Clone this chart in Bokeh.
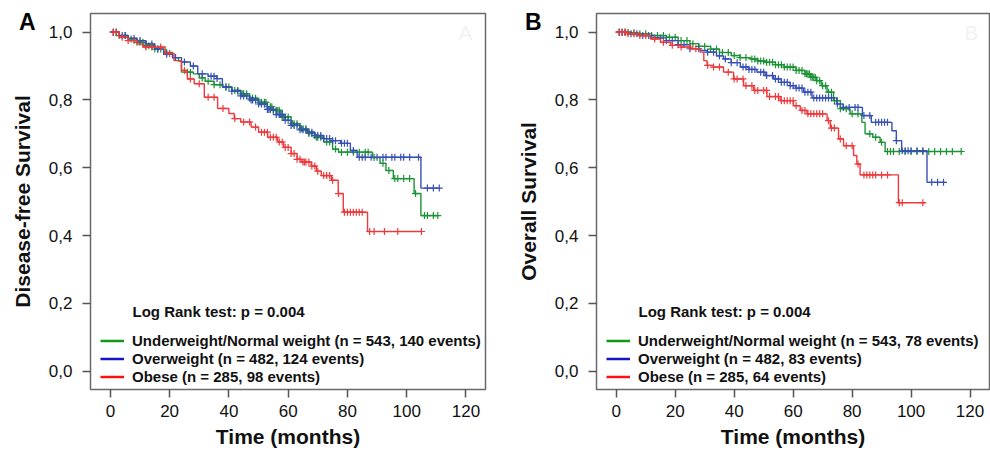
import numpy as np
from bokeh.plotting import figure
from bokeh.models import Range1d, FixedTicker, Label, Legend, LegendItem, LinearAxis
from bokeh.layouts import row
from bokeh.embed import file_html
from bokeh.resources import INLINE

# ---------------- data ----------------
x_ticks = [0, 20, 40, 60, 80, 100, 120]
y_ticks = [0.0, 0.2, 0.4, 0.6, 0.8, 1.0]
y_tick_labels = ["0,0", "0,2", "0,4", "0,6", "0,8", "1,0"]
panel_letters = ["A", "B"]
y_titles = ["Disease-free Survival", "Overall Survival"]
x_title = "Time (months)"

groups = ["Underweight/Normal weight", "Overweight", "Obese"]
group_n = [543, 482, 285]
events_a = [140, 124, 98]
events_b = [78, 83, 64]
p_value = "0.004"

# Panel A: Disease-free survival (step times / survival)
a_green_t = [0, 3, 6, 9, 12, 15, 18, 21, 23, 24, 28, 30, 32, 35, 38, 41, 44, 47, 50, 53,
             55, 58, 61, 64, 66.5, 69, 72, 75, 77, 88.5, 91, 93, 95.5, 102.5, 104.8, 110.5]
a_green_s = [1.0, 0.99, 0.98, 0.97, 0.96, 0.95, 0.94, 0.925, 0.915, 0.882, 0.877, 0.865, 0.855, 0.845, 0.838, 0.828, 0.818, 0.805, 0.793, 0.78,
             0.769, 0.75, 0.73, 0.715, 0.701, 0.69, 0.676, 0.655, 0.646, 0.63, 0.613, 0.592, 0.568, 0.524, 0.459, 0.459]
a_green_c = [1, 2, 3, 5, 7, 9, 10, 11, 12, 13, 14, 15, 16, 17, 19, 26, 27, 31, 33, 35, 37, 39, 40, 42, 43, 44.5, 45, 46,
             47, 48, 49, 50.5, 51, 52, 52.5, 53, 54, 54.5, 55, 56, 56.5, 57, 58, 58.5, 59, 60, 61.5, 62, 63, 64.5, 65,
             66, 67, 68, 69.5, 70, 71, 73, 74, 76, 78, 80, 82, 84, 86, 87, 89, 92, 94, 96, 97, 99, 101, 103, 106,
             107, 109, 110.5]

a_blue_t = [0, 3, 6, 9, 12, 15, 18, 21, 24, 27, 29.5, 33, 36, 37.8, 41, 44, 47, 50, 53, 56,
            59, 61, 64, 66.5, 69, 72, 75, 77.7, 81, 83.3, 104.8, 111]
a_blue_s = [1.0, 0.99, 0.982, 0.975, 0.965, 0.95, 0.935, 0.925, 0.912, 0.9, 0.877, 0.87, 0.863, 0.838, 0.826, 0.812, 0.8, 0.788, 0.772, 0.757,
            0.74, 0.725, 0.712, 0.705, 0.695, 0.686, 0.68, 0.672, 0.651, 0.631, 0.54, 0.54]
a_blue_c = [1, 2, 4, 5, 8, 10, 12, 14, 16, 19, 22, 25, 28, 31, 34, 35, 36, 39, 41, 43, 44, 45, 46, 47.5, 48, 49, 50,
            51, 52, 53, 53.5, 54, 55, 56, 57, 57.5, 58, 59, 60, 61, 62, 63, 64, 65, 66, 67, 68, 69, 70, 71, 72,
            73, 74, 75, 76, 78, 79, 80, 82, 84, 85, 86, 88, 90, 92, 93, 95, 96, 98, 99, 101, 104, 107, 109, 111]

a_red_t = [0, 3, 6, 9, 11, 18.5, 21.5, 24, 26, 28.3, 31.7, 36.2, 40, 41.8, 44, 47.5, 50, 53.1, 56.5, 58.5,
           61, 63, 64.4, 67.8, 69.5, 71.2, 74.6, 76.9, 78.6, 86.8, 105]
a_red_s = [1.0, 0.985, 0.975, 0.965, 0.956, 0.937, 0.916, 0.887, 0.862, 0.848, 0.808, 0.775, 0.76, 0.745, 0.735, 0.72, 0.705, 0.69, 0.676, 0.66,
           0.642, 0.625, 0.617, 0.605, 0.59, 0.577, 0.563, 0.524, 0.469, 0.412, 0.412]
a_red_c = [1, 2, 4, 6, 8, 12, 14, 17, 20, 25, 27, 30, 33, 35, 38, 42, 45, 47, 49, 51, 52, 53, 54, 55, 56, 57, 58,
           59, 60, 61, 62, 63, 64, 65, 65.5, 66, 67, 68, 69, 70, 72, 73, 74, 75, 77, 79, 80, 81, 82, 83, 84,
           85, 87.5, 89, 92.5, 97, 105]

# Panel B: Overall survival
b_green_t = [0, 5, 8, 12, 17, 21, 25, 28, 32, 35, 39, 42, 45.5, 48, 51, 54, 57, 61, 64, 66,
             68, 69.5, 71.5, 73.7, 76, 79.3, 83.3, 84.4, 87, 89.5, 91.2, 117.2]
b_green_s = [1.0, 0.998, 0.995, 0.99, 0.985, 0.975, 0.966, 0.958, 0.95, 0.94, 0.931, 0.925, 0.921, 0.915, 0.911, 0.904, 0.897, 0.887, 0.877, 0.867,
             0.857, 0.842, 0.823, 0.798, 0.774, 0.759, 0.734, 0.70, 0.69, 0.675, 0.648, 0.648]
b_green_c = [1, 2, 3, 4, 6, 8, 10, 12, 14, 16, 18, 20, 22, 24, 26, 28, 30, 32, 34, 36, 38, 40, 42, 44, 46, 47, 48,
             49, 50, 51, 52, 53, 54, 55, 56, 57, 58, 59, 60, 61, 62, 63, 64, 64.5, 65, 65.5, 66, 66.5, 67, 67.5, 68,
             69, 70, 71, 72, 73, 74, 75, 76, 78, 80, 82, 86, 88, 90, 92, 93, 94, 96, 98, 100, 102, 104, 106, 108,
             110, 112, 114, 117]

b_blue_t = [0, 4, 8, 13, 17, 21, 25, 28.5, 30.8, 34, 36.4, 39, 42.1, 45, 47.7, 50.5, 53.4, 56, 59, 61,
            63.5, 66.4, 74.8, 77, 83.5, 86.5, 93.5, 95, 96.8, 105.4, 111.5]
b_blue_s = [1.0, 0.995, 0.99, 0.983, 0.975, 0.963, 0.951, 0.946, 0.941, 0.93, 0.921, 0.91, 0.897, 0.89, 0.882, 0.872, 0.862, 0.852, 0.842, 0.835,
            0.823, 0.806, 0.788, 0.778, 0.754, 0.734, 0.709, 0.68, 0.65, 0.557, 0.557]
b_blue_c = [1, 2, 3, 5, 7, 9, 11, 13, 15, 17, 19, 21, 23, 25, 28, 31, 33, 35, 37, 39, 41, 43, 44, 45, 46, 47, 49,
            50, 51, 53, 54, 55, 56, 57, 58, 59, 60, 61, 62, 63, 64, 65, 66, 67, 68, 69, 70, 71, 72, 73, 75, 77,
            79, 81, 82, 84, 86, 88, 89, 90, 91, 92, 95, 97, 98, 99, 100, 102, 104, 107, 109, 111]

b_red_t = [0, 4, 8, 11.6, 15, 18.4, 22, 25.2, 28.5, 29.7, 30.8, 32.9, 36.4, 39.8, 43.2, 46.6, 51.1, 55.6, 60.1, 62.4,
           64.7, 71.5, 72.6, 75.4, 77.1, 80.5, 81.6, 82.7, 95.7, 104.7]
b_red_s = [1.0, 0.995, 0.99, 0.98, 0.97, 0.961, 0.956, 0.951, 0.941, 0.916, 0.902, 0.897, 0.882, 0.862, 0.842, 0.828, 0.81, 0.798, 0.783, 0.769,
           0.759, 0.739, 0.717, 0.685, 0.665, 0.636, 0.611, 0.579, 0.497, 0.497]
b_red_c = [1, 2, 3, 4, 6, 8, 10, 13, 16, 19, 22, 25, 27, 31, 33, 35, 38, 40, 41, 43, 44, 46, 47, 48, 50, 51, 52,
           54, 55, 56, 57, 58, 59, 60, 61, 63, 64, 65, 66, 67, 68, 69, 70, 72, 73, 74, 76, 78, 80, 82, 84, 85,
           86, 87, 88, 90, 92, 96, 97, 104]

curve_colors = ["#1b9234", "#3650b4", "#ec3a3d"]
legend_colors = ["#119a11", "#1414c8", "#ff1010"]
FONT = "Liberation Sans"


def surv_at(times, t_step, s_step):
    t_step = np.asarray(t_step, dtype=float)
    s_step = np.asarray(s_step, dtype=float)
    idx = np.searchsorted(t_step, np.asarray(times, dtype=float), side="right") - 1
    idx = np.clip(idx, 0, len(s_step) - 1)
    return s_step[idx]


def make_panel(letter, ylabel, curves, events, left_border, right_border):
    p = figure(width=495, height=452, output_backend="svg", toolbar_location=None,
               x_range=Range1d(-6.7, 126.6), y_range=Range1d(-0.054, 1.055),
               min_border_left=left_border, min_border_right=right_border,
               min_border_top=13, min_border_bottom=63)
    p.background_fill_color = "white"
    p.border_fill_color = "white"
    p.outline_line_color = "#6a6a6a"
    p.outline_line_width = 1.5
    p.xgrid.visible = False
    p.ygrid.visible = False

    for ax in (p.xaxis[0], p.yaxis[0]):
        ax.axis_line_color = None
        ax.major_tick_in = 0
        ax.major_tick_out = 8
        ax.major_tick_line_color = "#555555"
        ax.major_tick_line_width = 1.5
        ax.minor_tick_line_color = None
        ax.major_label_text_font = FONT
        ax.major_label_text_font_size = "17px"
        ax.major_label_text_color = "#111111"
        ax.axis_label_text_font = FONT
        ax.axis_label_text_font_size = "21px"
        ax.axis_label_text_font_style = "bold"
        ax.axis_label_text_color = "#111111"

    p.xaxis.ticker = FixedTicker(ticks=x_ticks)
    p.yaxis.ticker = FixedTicker(ticks=y_ticks)
    p.yaxis.major_label_overrides = {t: lab for t, lab in zip(y_ticks, y_tick_labels)}
    p.xaxis.major_label_standoff = 7
    p.yaxis.major_label_standoff = 10
    p.xaxis.axis_label = x_title
    p.yaxis.axis_label = ylabel
    p.xaxis.axis_label_standoff = 5
    p.yaxis.axis_label_standoff = 12

    # panel letter as the single tick label of an outer, line-less axis
    letter_y = 1.03
    letter_axis = LinearAxis(ticker=FixedTicker(ticks=[letter_y]),
                             major_label_overrides={letter_y: letter},
                             axis_line_color=None, major_tick_line_color=None,
                             major_tick_in=0, major_tick_out=0,
                             minor_tick_line_color=None, major_label_standoff=-28,
                             major_label_text_font=FONT, major_label_text_font_size="23px",
                             major_label_text_font_style="bold", major_label_text_color="#000000")
    p.add_layout(letter_axis, "left")

    for (t, s, c), col in zip(curves, curve_colors):
        p.step(t, s, mode="after", line_color=col, line_width=1.4)
        p.scatter(c, surv_at(c, t, s), marker="cross", size=7, line_color=col, line_width=1.2)

    items = []
    nan2 = np.array([np.nan, np.nan])
    for g, n, e, lc in zip(groups, group_n, events, legend_colors):
        r = p.line(nan2, nan2, line_color=lc, line_width=2.5)
        items.append(LegendItem(label=f"{g} (n = {n}, {e} events)", renderers=[r], index=0))
    leg = Legend(items=items, location=(10, 4), orientation="vertical",
                 glyph_width=24, glyph_height=17, label_height=17, label_standoff=8,
                 spacing=1, padding=0, margin=0, border_line_color=None,
                 background_fill_alpha=0, label_text_font=FONT,
                 label_text_font_size="15px", label_text_font_style="bold",
                 label_text_color="#111111")
    p.add_layout(leg, "center")

    p.add_layout(Label(x=42, y=78, x_units="screen", y_units="screen",
                       text=f"Log Rank test: p = {p_value}", text_font=FONT,
                       text_font_size="15px", text_font_style="bold",
                       text_color="#111111", text_baseline="alphabetic"))
    p.add_layout(Label(x=375, y=357, x_units="screen", y_units="screen",
                       text=letter, text_font=FONT, text_font_size="20px",
                       text_color="#f2f2f2", text_align="center", text_baseline="middle"))
    return p


pa = make_panel(panel_letters[0], y_titles[0],
                [(a_green_t, a_green_s, a_green_c), (a_blue_t, a_blue_s, a_blue_c), (a_red_t, a_red_s, a_red_c)],
                events_a, 90, 10)
pb = make_panel(panel_letters[1], y_titles[1],
                [(b_green_t, b_green_s, b_green_c), (b_blue_t, b_blue_s, b_blue_c), (b_red_t, b_red_s, b_red_c)],
                events_b, 101, 1)

layout = row(pa, pb)
open("out.html", "w").write(file_html(layout, INLINE))
